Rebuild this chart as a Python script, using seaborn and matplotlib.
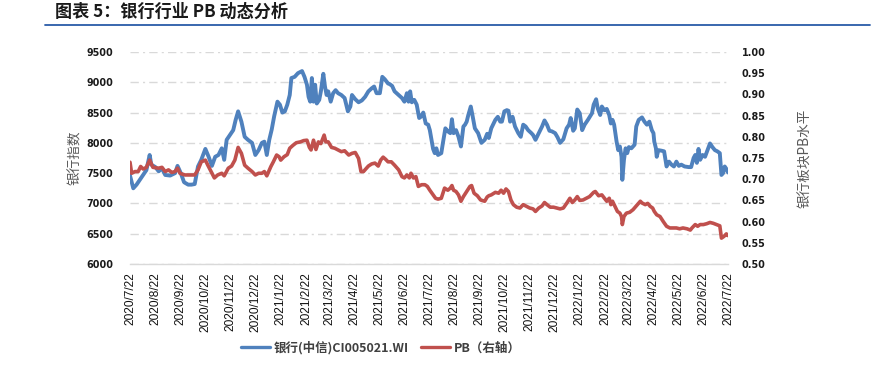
import pandas as pd
import matplotlib
matplotlib.use("Agg")
import matplotlib.pyplot as plt
import matplotlib.ticker as ticker
from matplotlib.lines import Line2D
import seaborn as sns

# data: days after 2020/7/22 and the values
start = "2020-07-22"

bank_day = [0, 4, 8, 12, 16, 20, 24, 26, 31, 35, 39, 43, 49, 55, 58, 62, 66, 71, 75, 79,
            83, 87, 92, 96, 100, 104, 108, 112, 115, 118, 122, 126, 129, 132, 136, 140,
            144, 149, 153, 157, 161, 164, 167, 170, 173, 176, 180, 183, 186, 189, 192,
            195, 197, 201, 205, 210, 213, 216, 218, 220, 222, 224, 226, 228, 231, 233,
            236, 238, 240, 242, 245, 248, 251, 254, 258, 262, 266, 269, 271, 275, 279,
            283, 287, 291, 295, 298, 301, 305, 308, 311, 315, 317, 320, 323, 328, 332,
            335, 338, 340, 342, 344, 347, 350, 353, 355, 358, 361, 364, 366, 368, 370,
            372, 374, 376, 380, 382, 385, 388, 391, 393, 395, 398, 401, 404, 407, 409,
            411, 413, 416, 418, 421, 425, 429, 433, 436, 438, 441, 446, 449, 452, 454,
            457, 460, 462, 464, 467, 470, 474, 477, 480, 483, 486, 490, 492, 495, 499,
            503, 506, 509, 512, 515, 519, 522, 525, 529, 533, 536, 538, 541, 543, 546,
            549, 552, 555, 559, 564, 566, 569, 571, 574, 576, 579, 582, 585, 587, 589,
            591, 594, 596, 598, 600, 601, 603, 605, 607, 609, 612, 616, 618, 621, 625,
            628, 631, 634, 637, 639, 640, 642, 643, 645, 649, 652, 655, 658, 661, 664,
            667, 670, 673, 677, 682, 685, 688, 690, 692, 694, 696, 699, 702, 705, 708,
            711, 714, 717, 720, 722, 724, 726, 729, 730]
bank_idx = [7460, 7250, 7310, 7390, 7470, 7550, 7800, 7640, 7600, 7530, 7580, 7470, 7460,
            7500, 7620, 7500, 7350, 7310, 7310, 7320, 7610, 7720, 7900, 7770, 7620, 7770,
            7800, 7910, 7720, 8050, 8130, 8210, 8380, 8520, 8350, 8100, 8050, 8000, 7800,
            7880, 8000, 8020, 7800, 8050, 8220, 8440, 8680, 8630, 8500, 8520, 8630, 8790,
            9070, 9090, 9150, 9185, 9090, 8960, 8760, 8680, 9070, 8680, 8960, 8650, 8710,
            8850, 9140, 8930, 8790, 8850, 8680, 8820, 8870, 8820, 8790, 8740, 8520, 8600,
            8790, 8720, 8670, 8700, 8760, 8850, 8900, 8930, 8820, 8820, 9090, 9050, 8980,
            8970, 8940, 8850, 8790, 8740, 8680, 8820, 8680, 8850, 8670, 8710, 8630, 8410,
            8430, 8500, 8320, 8300, 8210, 8050, 7900, 7830, 7910, 7800, 7830, 8000, 8240,
            8190, 8160, 8390, 8160, 8210, 8100, 7940, 8270, 8300, 8350, 8460, 8600, 8460,
            8240, 8160, 8000, 8050, 8150, 8080, 8240, 8380, 8430, 8350, 8350, 8520, 8540,
            8530, 8350, 8430, 8270, 8160, 8100, 8300, 8270, 8210, 8160, 8130, 8050, 8160,
            8270, 8370, 8300, 8200, 8190, 8160, 8090, 8000, 8060, 8240, 8300, 8410, 8200,
            8240, 8550, 8490, 8210, 8300, 8380, 8490, 8630, 8720, 8570, 8460, 8600, 8540,
            8560, 8460, 8320, 8380, 8300, 8020, 7880, 7940, 7770, 7390, 7720, 7910, 7830,
            7930, 7910, 7970, 8270, 8380, 8420, 8350, 8300, 8350, 8210, 8160, 8020, 7910,
            7770, 7880, 7870, 7860, 7610, 7690, 7640, 7610, 7690, 7620, 7640, 7610, 7600,
            7600, 7750, 7800, 7670, 7900, 7720, 7800, 7770, 7880, 7990, 7930, 7880, 7860,
            7830, 7470, 7500, 7610, 7550, 7510]

pb_day = [0, 2, 6, 10, 13, 16, 20, 24, 28, 35, 39, 43, 47, 51, 55, 58, 61, 67, 73, 79,
          83, 87, 92, 95, 99, 103, 107, 112, 115, 120, 124, 128, 132, 136, 140, 144, 149,
          153, 157, 161, 164, 167, 172, 175, 179, 182, 184, 188, 192, 195, 199, 203, 208,
          212, 216, 219, 221, 224, 227, 230, 233, 237, 239, 242, 246, 250, 254, 258, 262,
          267, 271, 275, 279, 282, 285, 291, 295, 299, 303, 306, 309, 312, 315, 319, 323,
          328, 332, 335, 338, 341, 343, 346, 349, 352, 356, 360, 363, 366, 370, 373, 376,
          380, 384, 388, 391, 393, 395, 398, 401, 404, 407, 411, 415, 417, 420, 424, 428,
          433, 436, 438, 441, 446, 450, 453, 456, 459, 462, 465, 468, 472, 476, 480, 484,
          488, 492, 495, 499, 503, 506, 509, 513, 517, 521, 525, 529, 533, 537, 540, 543,
          546, 549, 553, 557, 561, 566, 568, 572, 576, 580, 582, 585, 587, 589, 592, 595,
          598, 600, 601, 603, 606, 610, 614, 618, 623, 625, 629, 632, 635, 638, 640, 643,
          647, 651, 655, 659, 663, 667, 671, 675, 680, 684, 686, 690, 693, 696, 700, 704,
          708, 712, 716, 720, 722, 725, 728, 730]
pb_val = [0.740, 0.714, 0.718, 0.718, 0.730, 0.724, 0.728, 0.745, 0.728, 0.726, 0.728,
          0.718, 0.722, 0.716, 0.718, 0.726, 0.714, 0.710, 0.710, 0.710, 0.722, 0.741,
          0.745, 0.733, 0.718, 0.703, 0.710, 0.714, 0.708, 0.726, 0.731, 0.745, 0.775,
          0.761, 0.733, 0.726, 0.718, 0.710, 0.714, 0.714, 0.718, 0.708, 0.730, 0.741,
          0.757, 0.753, 0.745, 0.753, 0.758, 0.773, 0.780, 0.786, 0.788, 0.791, 0.792,
          0.775, 0.769, 0.792, 0.770, 0.788, 0.784, 0.804, 0.788, 0.788, 0.775, 0.773,
          0.769, 0.765, 0.767, 0.757, 0.761, 0.763, 0.749, 0.718, 0.718, 0.731, 0.736,
          0.738, 0.731, 0.745, 0.752, 0.747, 0.741, 0.741, 0.733, 0.722, 0.706, 0.703,
          0.710, 0.703, 0.714, 0.703, 0.706, 0.683, 0.687, 0.687, 0.683, 0.674, 0.663,
          0.655, 0.653, 0.655, 0.679, 0.674, 0.679, 0.685, 0.674, 0.671, 0.663, 0.648,
          0.659, 0.671, 0.683, 0.685, 0.667, 0.661, 0.651, 0.648, 0.658, 0.661, 0.663,
          0.669, 0.667, 0.674, 0.667, 0.677, 0.671, 0.651, 0.640, 0.634, 0.632, 0.640,
          0.636, 0.632, 0.630, 0.624, 0.632, 0.637, 0.645, 0.640, 0.634, 0.634, 0.632,
          0.630, 0.632, 0.643, 0.655, 0.645, 0.651, 0.659, 0.650, 0.651, 0.655, 0.659,
          0.669, 0.671, 0.661, 0.663, 0.653, 0.648, 0.655, 0.640, 0.648, 0.636, 0.624,
          0.620, 0.612, 0.593, 0.612, 0.620, 0.622, 0.628, 0.637, 0.648, 0.644, 0.640,
          0.643, 0.636, 0.632, 0.624, 0.616, 0.612, 0.600, 0.589, 0.585, 0.585, 0.585,
          0.583, 0.585, 0.583, 0.580, 0.585, 0.593, 0.589, 0.593, 0.593, 0.595, 0.598,
          0.596, 0.593, 0.590, 0.561, 0.565, 0.571, 0.567]

bank_name = "银行(中信)CI005021.WI"
pb_name = "PB（右轴）"
title = "图表 5：银行行业 PB 动态分析"
left_label = "银行指数"
right_label = "银行板块PB水平"

blue = "#4F81BD"
red = "#C0504D"

t0 = pd.Timestamp(start)
bank = pd.DataFrame({"date": t0 + pd.to_timedelta(bank_day, unit="D"), "value": bank_idx})
pb = pd.DataFrame({"date": t0 + pd.to_timedelta(pb_day, unit="D"), "value": pb_val})
month_ticks = pd.date_range(start, "2022-07-22", freq=pd.DateOffset(months=1))

sns.set_style("white")
plt.rcParams['font.family'] = ['DejaVu Sans', 'Noto Sans CJK SC']
cjk = ['Noto Sans CJK SC', 'DejaVu Sans']

fig = plt.figure(figsize=(8.71, 3.77), dpi=100)
ax = fig.add_axes([130/871, 1-264/377, 598/871, 212/377])
ax2 = ax.twinx()

sns.lineplot(data=bank, x="date", y="value", ax=ax, color=blue, linewidth=2.8, sort=False)
sns.lineplot(data=pb, x="date", y="value", ax=ax2, color=red, linewidth=2.6, sort=False)

ax.set_xlim(t0, pd.Timestamp("2022-07-22"))
ax.set_ylim(6000, 9500)
ax.yaxis.set_major_locator(ticker.MultipleLocator(500))
ax2.set_ylim(0.5, 1.0)
ax2.yaxis.set_major_locator(ticker.MultipleLocator(0.05))
ax2.yaxis.set_major_formatter(ticker.FormatStrFormatter("%.2f"))

ax.set_xticks(month_ticks)
ax.set_xticklabels([f"{d.year}/{d.month}/{d.day}" for d in month_ticks],
                   rotation=90, fontsize=8.6, family="Liberation Sans")

ax.set_axisbelow(True)
ax.yaxis.grid(True, color="#d9d9d9", linestyle=(0, (6, 3, 1.5, 3)), linewidth=1)
ax.xaxis.grid(False)

for s in ["top", "left", "right"]:
    ax.spines[s].set_visible(False)
    ax2.spines[s].set_visible(False)
ax2.spines["bottom"].set_visible(False)
ax.spines["bottom"].set_color("#d9d9d9")
ax.spines["bottom"].set_linewidth(1)

ax.tick_params(axis="x", length=3, color="#d9d9d9", pad=3, labelcolor="#111111")
ax.tick_params(axis="y", length=0, pad=12)
ax2.tick_params(axis="y", length=0, pad=10)
for lab in ax.get_yticklabels() + ax2.get_yticklabels():
    lab.set_fontweight("bold")
    lab.set_fontsize(6.9)
    lab.set_color("#1a1a1a")

ax.set_xlabel("")
ax.set_ylabel(left_label, family=cjk, fontsize=9.8, color="#595959", labelpad=3)
ax2.set_ylabel(right_label, family=cjk, fontsize=9.8, color="#595959", rotation=90, labelpad=23)

handles = [Line2D([], [], color=blue, linewidth=2.4), Line2D([], [], color=red, linewidth=2.4)]
fig.legend(handles, [bank_name, pb_name], loc="center", bbox_to_anchor=(0.437, 1-348/377),
           ncol=2, frameon=False, handlelength=2.3, handletextpad=0.3, columnspacing=1.0,
           prop={"family": cjk, "size": 9, "weight": "bold"}, labelcolor="#404040")

fig.text(55/871, 1-12/377, title, family=cjk, fontsize=12.3, fontweight="bold",
         va="center", ha="left", color="#1a1a1a")
fig.add_artist(Line2D([45/871, 870/871], [1-25/377, 1-25/377], color="#2a5ca8", linewidth=1.3))

fig.savefig("out.png", dpi=100)
